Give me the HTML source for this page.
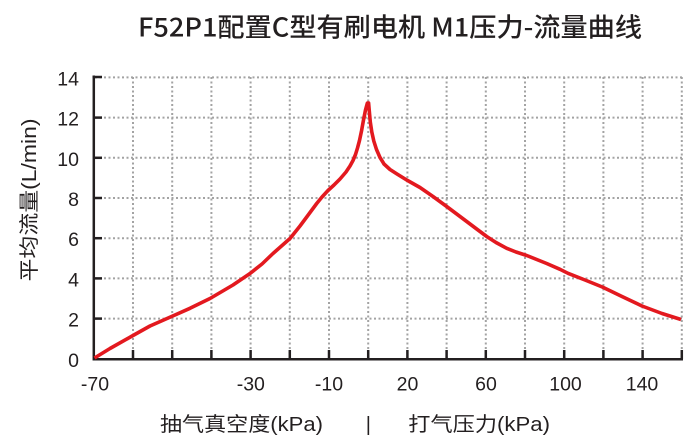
<!DOCTYPE html>
<html>
<head>
<meta charset="utf-8">
<style>
  html,body{margin:0;padding:0;background:#fff;}
  svg{display:block;}
  text{font-family:"Liberation Sans","Noto Sans CJK SC",sans-serif;fill:#231f20;}
</style>
</head>
<body>
<svg width="700" height="448" viewBox="0 0 700 448" xmlns="http://www.w3.org/2000/svg">
  <!-- Title -->
  <text x="138" y="36.5" font-size="26" font-weight="500" textLength="504" lengthAdjust="spacingAndGlyphs" style="font-family:'Noto Sans CJK SC','Liberation Sans',sans-serif;">F52P1配置C型有刷电机 M1压力-流量曲线</text>

  <!-- Grid -->
  <g stroke="#a3a3a3" stroke-width="2" stroke-dasharray="2 2.5" fill="none">
    <line x1="95" y1="318.6" x2="682" y2="318.6"/>
    <line x1="95" y1="278.4" x2="682" y2="278.4"/>
    <line x1="95" y1="238.2" x2="682" y2="238.2"/>
    <line x1="95" y1="198.0" x2="682" y2="198.0"/>
    <line x1="95" y1="157.8" x2="682" y2="157.8"/>
    <line x1="95" y1="117.6" x2="682" y2="117.6"/>
    <line x1="95" y1="77.4" x2="682" y2="77.4"/>
    <line x1="133" y1="77" x2="133" y2="358"/>
    <line x1="172.2" y1="77" x2="172.2" y2="358"/>
    <line x1="211.4" y1="77" x2="211.4" y2="358"/>
    <line x1="250.6" y1="77" x2="250.6" y2="358"/>
    <line x1="289.8" y1="77" x2="289.8" y2="358"/>
    <line x1="329" y1="77" x2="329" y2="358"/>
    <line x1="368.2" y1="77" x2="368.2" y2="358"/>
    <line x1="407.4" y1="77" x2="407.4" y2="358"/>
    <line x1="446.6" y1="77" x2="446.6" y2="358"/>
    <line x1="485.8" y1="77" x2="485.8" y2="358"/>
    <line x1="525" y1="77" x2="525" y2="358"/>
    <line x1="564.2" y1="77" x2="564.2" y2="358"/>
    <line x1="603.4" y1="77" x2="603.4" y2="358"/>
    <line x1="642.6" y1="77" x2="642.6" y2="358"/>
    <line x1="681.8" y1="77" x2="681.8" y2="358"/>
  </g>

  <!-- Axes -->
  <g stroke="#231f20" stroke-width="2.5" fill="none">
    <polyline points="93.8,75.5 93.8,359.2 683,359.2"/>
    <line x1="93.8" y1="318.6" x2="102" y2="318.6"/>
    <line x1="93.8" y1="278.4" x2="102" y2="278.4"/>
    <line x1="93.8" y1="238.2" x2="102" y2="238.2"/>
    <line x1="93.8" y1="198.0" x2="102" y2="198.0"/>
    <line x1="93.8" y1="157.8" x2="102" y2="157.8"/>
    <line x1="93.8" y1="117.6" x2="102" y2="117.6"/>
    <line x1="92.6" y1="77" x2="102" y2="77"/>
    <line x1="133" y1="359" x2="133" y2="350"/>
    <line x1="172.2" y1="359" x2="172.2" y2="350"/>
    <line x1="211.4" y1="359" x2="211.4" y2="350"/>
    <line x1="250.6" y1="359" x2="250.6" y2="350"/>
    <line x1="289.8" y1="359" x2="289.8" y2="350"/>
    <line x1="329" y1="359" x2="329" y2="350"/>
    <line x1="368.2" y1="359" x2="368.2" y2="350"/>
    <line x1="407.4" y1="359" x2="407.4" y2="350"/>
    <line x1="446.6" y1="359" x2="446.6" y2="350"/>
    <line x1="485.8" y1="359" x2="485.8" y2="350"/>
    <line x1="525" y1="359" x2="525" y2="350"/>
    <line x1="564.2" y1="359" x2="564.2" y2="350"/>
    <line x1="603.4" y1="359" x2="603.4" y2="350"/>
    <line x1="642.6" y1="359" x2="642.6" y2="350"/>
    <line x1="681.8" y1="359" x2="681.8" y2="350"/>
  </g>

  <!-- Y labels -->
  <g font-size="19.5" text-anchor="end">
    <text x="79" y="366.8">0</text>
    <text x="79" y="326.6">2</text>
    <text x="79" y="286.4">4</text>
    <text x="79" y="246.2">6</text>
    <text x="79" y="206">8</text>
    <text x="79" y="165.8">10</text>
    <text x="79" y="125.6">12</text>
    <text x="79" y="85.4">14</text>
  </g>

  <!-- X labels -->
  <g font-size="19.5" text-anchor="middle">
    <text x="95" y="390.5">-70</text>
    <text x="250.8" y="390.5">-30</text>
    <text x="329" y="390.5">-10</text>
    <text x="407.5" y="390.5">20</text>
    <text x="486" y="390.5">60</text>
    <text x="565.5" y="390.5">100</text>
    <text x="642" y="390.5">140</text>
  </g>

  <!-- Axis titles -->
  <text x="160" y="431" font-size="20" textLength="163" lengthAdjust="spacingAndGlyphs">抽气真空度(kPa)</text>
  <text x="368.3" y="431" font-size="20" text-anchor="middle">|</text>
  <text x="408.3" y="431" font-size="20" textLength="141.7" lengthAdjust="spacingAndGlyphs">打气压力(kPa)</text>
  <text transform="translate(36,200) rotate(-90)" font-size="20" text-anchor="middle" textLength="163" lengthAdjust="spacingAndGlyphs">平均流量(L/min)</text>

  <!-- Curve -->
  <polyline fill="none" stroke="#e3191f" stroke-width="3.6" stroke-linejoin="round" stroke-linecap="butt"
    points="94.5,358 110,348.5 133,335.5 150,326 172.7,316 190,308.3 210,298.5 233,285 250,273.5 262,264 273,253.5 290,238.5 300,226 306.7,217 316.7,203.5 322,197 328,190.5 334,185 340,179 346,172 350,166 353,160.5 355.5,154.5 357.5,148 359.5,140.5 361.5,131 363.5,120 365.5,110 367.4,103 368.6,103 369.3,111 370.3,122 371.8,132 373.8,141 376.5,149.5 380,157.5 384,164 390,169.5 397,174 406.7,180 420,187.5 433,196.5 446.7,206.5 466.7,221.5 478,230 486.7,236.5 496,242.5 506.7,248.3 516,252 526.7,255.5 546.7,263.5 560,269.3 568,273.3 585,280 602.3,287 622,296.5 642,306 662,313.5 681,319.5"/>
</svg>
</body>
</html>
